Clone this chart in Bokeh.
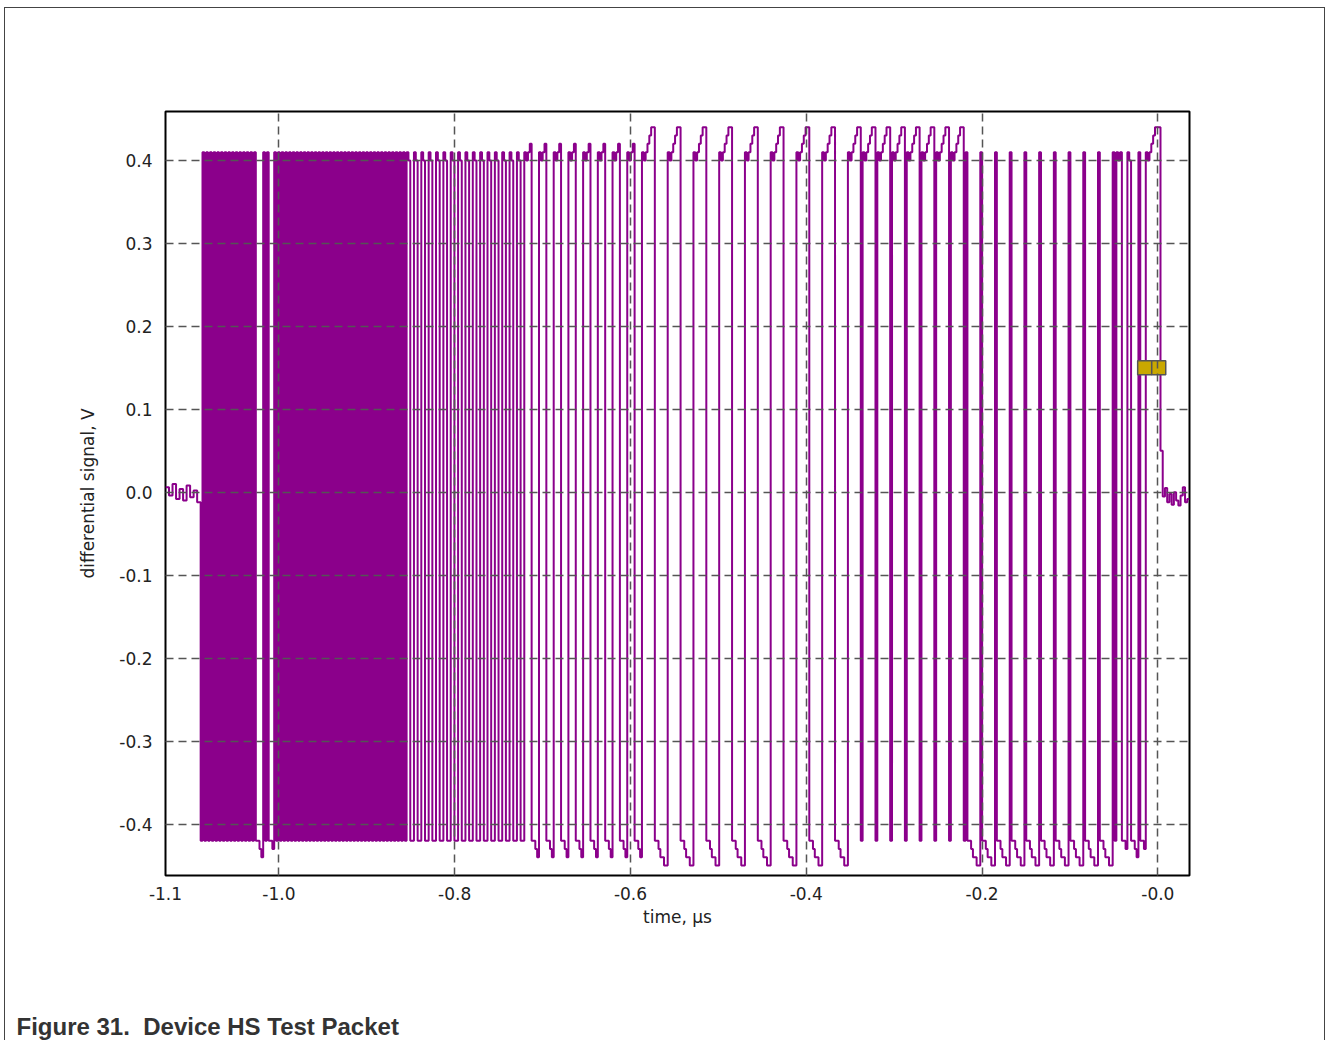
from bokeh.plotting import figure
from bokeh.models import FixedTicker, Title, Range1d, InlineStyleSheet
from bokeh.embed import file_html
from bokeh.resources import INLINE

x_start, x_end = -1.129, 0.036          # µs, visible time window
y_min, y_max = -0.462, 0.459            # V
x_ticks = [-1.129, -1.0, -0.8, -0.6, -0.4, -0.2, 0.0]
x_tick_labels = ["-1.1", "-1.0", "-0.8", "-0.6", "-0.4", "-0.2", "-0.0"]
y_ticks = [-0.4, -0.3, -0.2, -0.1, 0.0, 0.1, 0.2, 0.3, 0.4]
y_tick_labels = ["-0.4", "-0.3", "-0.2", "-0.1", "0.0", "0.1", "0.2", "0.3", "0.4"]

packet_start = -1.089                   # µs, first edge out of idle
packet_end = 0.003                      # µs, return to idle after EOP

sync_bytes = [0x00, 0x00, 0x00, 0x80]   # KJKJ...KJKK
pid_bytes = [0xC3]                      # DATA0
payload_bytes = [
    0x00, 0x00, 0x00, 0x00, 0x00, 0x00, 0x00, 0x00, 0x00,
    0xAA, 0xAA, 0xAA, 0xAA, 0xAA, 0xAA, 0xAA, 0xAA,
    0xEE, 0xEE, 0xEE, 0xEE, 0xEE, 0xEE, 0xEE, 0xEE,
    0xFE, 0xFF, 0xFF, 0xFF, 0xFF, 0xFF, 0xFF, 0xFF, 0xFF, 0xFF, 0xFF, 0xFF,
    0x7F, 0xBF, 0xDF, 0xEF, 0xF7, 0xFB, 0xFD,
    0xFC, 0x7E, 0xBF, 0xDF, 0xEF, 0xF7, 0xFB, 0xFD, 0x7E,
]
eop_bytes = [0xFE]                      # HS EOP, sent without bit stuffing

# settled levels by position inside a run of equal symbols (V)
high_levels = [0.41, 0.40, 0.41, 0.42, 0.43, 0.44, 0.44]
low_levels = [-0.42, -0.42, -0.43, -0.44, -0.44, -0.45, -0.45]

idle_before = [0.006, -0.004, 0.010, -0.008, 0.004, -0.010, 0.008, -0.006, 0.002, -0.012]
idle_after = [0.050, -0.005, 0.005, -0.012, -0.002, -0.015, 0.000, -0.010, -0.016, -0.004, 0.006, -0.012, -0.008]

marker_t = [-0.015, 0.001]
marker_v = [0.15, 0.15]

caption = "Figure 31.\u00a0 Device HS Test Packet"

# ---------------- build the differential waveform ----------------
def crc16_usb(data):
    crc = 0xFFFF
    for b in data:
        crc ^= b
        for _ in range(8):
            crc = (crc >> 1) ^ 0xA001 if crc & 1 else crc >> 1
    crc ^= 0xFFFF
    return [crc & 0xFF, crc >> 8]

def lsb_bits(byte_list):
    return [(b >> i) & 1 for b in byte_list for i in range(8)]

stuffed = []
ones = 0
for b in lsb_bits(sync_bytes + pid_bytes + payload_bytes + crc16_usb(payload_bytes)):
    stuffed.append(b)
    ones = ones + 1 if b else 0
    if ones == 6:
        stuffed.append(0)
        ones = 0
line_bits = stuffed + lsb_bits(eop_bytes)

state, run = 1, 0
levels = []
for b in line_bits:
    if b == 0:
        state, run = -state, 0
    else:
        run += 1
    prof = high_levels if state > 0 else low_levels
    levels.append(prof[min(run, len(prof) - 1)])

xs, ys = [], []
def add_steps(t0, t1, vals):
    dt = (t1 - t0) / len(vals)
    for i, v in enumerate(vals):
        xs.extend([t0 + i * dt, t0 + (i + 1) * dt])
        ys.extend([v, v])

add_steps(x_start, packet_start, idle_before)
add_steps(packet_start, packet_end, levels)
add_steps(packet_end, x_end, idle_after)

# ---------------- figure ----------------
border_css = InlineStyleSheet(css="""
:host::after {
  content: "";
  position: absolute;
  left: 4px; top: 7px; width: 1321px; height: 1033px;
  border: 1px solid #444444; border-bottom: none;
  box-sizing: border-box; pointer-events: none; z-index: 100;
}
""")

p = figure(width=1327, height=1040, output_backend="svg", toolbar_location=None,
           x_range=Range1d(x_start, x_end), y_range=Range1d(y_min, y_max),
           min_border_left=165, min_border_right=138, min_border_top=111, min_border_bottom=165,
           stylesheets=[border_css])
p.background_fill_color = "white"
p.border_fill_color = "white"
p.outline_line_color = "black"
p.outline_line_width = 2

p.line(xs, ys, line_color="#8B008B", line_width=2)
p.scatter(marker_t, marker_v, marker="square", size=14, fill_color="#C9A800",
          line_color="#555555", line_width=1.5)

p.xaxis.ticker = FixedTicker(ticks=x_ticks)
p.xaxis.major_label_overrides = {t: s for t, s in zip(x_ticks, x_tick_labels)}
p.yaxis.ticker = FixedTicker(ticks=y_ticks)
p.yaxis.major_label_overrides = {t: s for t, s in zip(y_ticks, y_tick_labels)}

for ax in (p.xaxis, p.yaxis):
    ax.axis_line_color = None
    ax.major_tick_line_color = None
    ax.minor_tick_line_color = None
    ax.major_label_text_font = "DejaVu Sans"
    ax.major_label_text_font_size = "17px"
    ax.major_label_text_color = "#222222"
    ax.axis_label_text_font = "DejaVu Sans"
    ax.axis_label_text_font_size = "17px"
    ax.axis_label_text_font_style = "normal"
    ax.axis_label_text_color = "#222222"

p.xaxis.axis_label = "time, µs"
p.xaxis.major_label_standoff = 5
p.xaxis.axis_label_standoff = 4
p.yaxis.axis_label = "differential signal, V"
p.yaxis.major_label_standoff = 7
p.yaxis.axis_label_standoff = 18

for g in (p.xgrid, p.ygrid):
    g.grid_line_color = "#555555"
    g.grid_line_dash = "8 5"
    g.grid_line_width = 1.5
    g.level = "overlay"
p.xgrid.ticker = FixedTicker(ticks=x_ticks[1:])
p.ygrid.ticker = FixedTicker(ticks=y_ticks)

# caption pushed to the bottom edge: two empty lines above it inside the title box
p.add_layout(Title(text="\n\n" + caption, align="left", offset=-149, standoff=0,
                   text_font="Liberation Sans", text_font_style="bold",
                   text_font_size="24px", text_color="#333333",
                   text_line_height=1.5), "below")

open("out.html", "w").write(file_html(p, INLINE))
